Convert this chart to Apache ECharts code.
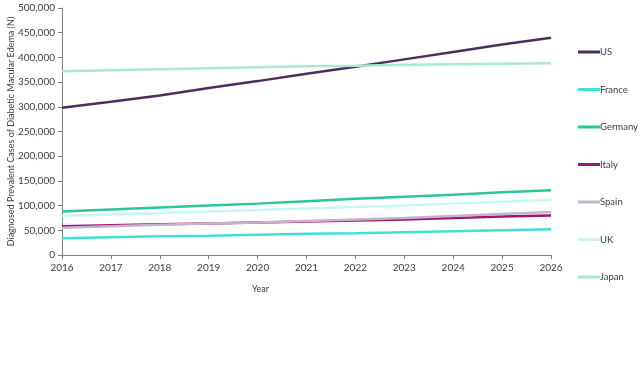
<!DOCTYPE html>
<html><head><meta charset="utf-8">
<script src="https://cdn.jsdelivr.net/npm/echarts@6/dist/echarts.min.js"></script>
<style>html,body{margin:0;padding:0;background:#fff}#c{width:641px;height:385px}</style>
</head><body><div id="c"></div>
<script>
const years = ['2016','2017','2018','2019','2020','2021','2022','2023','2024','2025','2026'];
const US      = [298000,310000,323000,338000,352000,367000,381000,396000,411000,426000,440000];
const France  = [34000,36000,38000,39000,41000,43000,44000,46000,48000,50000,52000];
const Germany = [88000,92000,96000,100000,104000,109000,114000,118000,122000,127000,131000];
const Italy   = [58000,60000,62000,64000,66000,68000,70000,72000,75000,78000,80000];
const Spain   = [55000,58000,61000,64000,66000,69000,72000,75000,79000,83000,87000];
const UK      = [79000,82000,85000,88000,91000,94000,97000,100000,104000,108000,112000];
const Japan   = [372000,374000,376000,378000,380000,382000,383000,385000,386000,387000,388000];
const seriesNames = ['US','France','Germany','Italy','Spain','UK','Japan'];
const seriesData = [US,France,Germany,Italy,Spain,UK,Japan];
const colors = ['#4b2d5f','#40e0d6','#2cc49a','#a0166f','#c4b4d0','#c8f6f2','#a9e8d4'];
const font = 'Lato';
const chart = echarts.init(document.getElementById('c'));
chart.setOption({
  animation:false,
  color: colors,
  textStyle:{fontFamily:font},
  grid:{left:62,right:90,top:8,bottom:130,containLabel:false,outerBoundsMode:'none'},
  legend:{
    orient:'vertical', left:578, top:47, padding:0, itemGap:27.5, itemWidth:22, itemHeight:10,
    icon:'path://M0,4 L22,4 L22,7 L0,7 Z',
    textStyle:{fontSize:9.5,color:'#404040',fontFamily:font, padding:[0,0,0,-5]},
    data: seriesNames
  },
  xAxis:{
    type:'category', data:years, boundaryGap:false,
    name:'Year', nameLocation:'middle', nameGap:30, nameMoveOverlap:false,
    nameTextStyle:{fontSize:9,color:'#404040',padding:[0,92,0,0]},
    axisLine:{lineStyle:{color:'#808080'}},
    axisTick:{show:true,length:4,lineStyle:{color:'#808080'}},
    axisLabel:{fontSize:10,color:'#404040',margin:8}
  },
  yAxis:{
    type:'value', min:0, max:500000, interval:50000,
    name:'Diagnosed Prevalent Cases of Diabetic Macular Edema (N)',
    nameLocation:'middle', nameGap:46, nameMoveOverlap:false,
    nameTextStyle:{fontSize:9,color:'#404040'},
    axisLine:{show:true,lineStyle:{color:'#808080'}},
    axisTick:{show:true,length:4,lineStyle:{color:'#808080'}},
    splitLine:{show:false},
    axisLabel:{fontSize:10,color:'#404040',margin:7,
      formatter:v=>v.toLocaleString('en-US')}
  },
  series: seriesNames.map((n,i)=>({
    name:n, type:'line', data:seriesData[i], symbol:'none', smooth:false,
    lineStyle:{width:2.5,color:colors[i]}, itemStyle:{color:colors[i]}
  }))
});
</script></body></html>
